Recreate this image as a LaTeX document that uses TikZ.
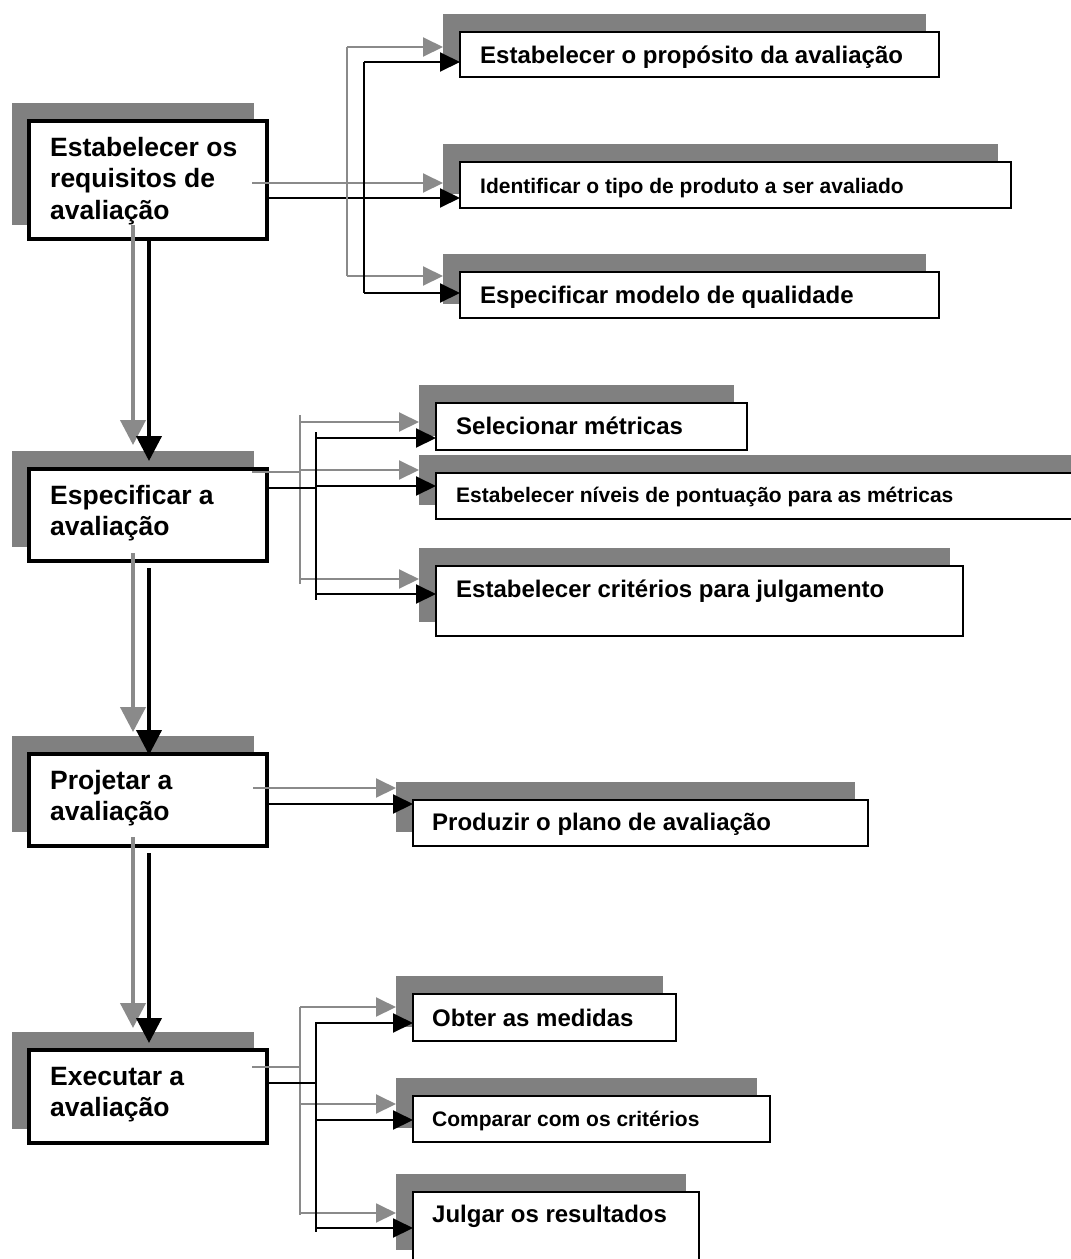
\documentclass[tikz,border=0pt]{standalone}
\usepackage{fontspec}
\setmainfont{Liberation Sans}
\usetikzlibrary{arrows.meta,calc}
\definecolor{shadowgray}{HTML}{808080}
\definecolor{linegray}{HTML}{8A8A8A}

% box with its offset grey shadow: name, style, x, y (top left), width, height
\newcommand\mkbox[6]{%
  \node[shadowbox, minimum width=#5pt+4pt, minimum height=#6pt+4pt] (s-#1) at (#3-17,#4-18) {};
  \node[#2, minimum width=#5pt, minimum height=#6pt] (#1) at (#3,#4) {};}

\begin{document}
\begin{tikzpicture}[x=1pt,y=-1pt,
  shadowbox/.style={fill=shadowgray, inner sep=0, outer sep=0, anchor=north west},
  mainbox/.style={draw, line width=4pt, fill=white, inner sep=0, outer sep=0, anchor=north west},
  subbox/.style={draw, line width=2pt, fill=white, inner sep=0, outer sep=0, anchor=north west},
  maintext/.style={inner sep=0, anchor=base west, font=\bfseries\fontsize{26.5}{31.5}\selectfont},
  subtext/.style={inner sep=0, anchor=base west, font=\bfseries\fontsize{24}{28}\selectfont},
  smalltext/.style={inner sep=0, anchor=base west, font=\bfseries\fontsize{21}{25}\selectfont},
  greyline/.style={draw=linegray, line width=2pt},
  blackline/.style={draw=black, line width=2pt},
  greyarrow/.style={greyline, -{Triangle[length=20pt,width=19pt]}},
  blackarrow/.style={blackline, -{Triangle[length=20pt,width=19pt]}},
  greydown/.style={draw=linegray, line width=4pt, -{Triangle[length=25pt,width=25pt]}},
  blackdown/.style={draw=black, line width=4pt, -{Triangle[length=25pt,width=25pt]}},
]
\fill[white] (0,0) rectangle (1071,1259);
\useasboundingbox (0,0) rectangle (1071,1259);

% main steps
\mkbox{r1}{mainbox}{29}{121}{238}{118}
\mkbox{r2}{mainbox}{29}{469}{238}{92}
\mkbox{r3}{mainbox}{29}{754}{238}{92}
\mkbox{r4}{mainbox}{29}{1050}{238}{93}

% sub-activities
\mkbox{c1}{subbox}{460}{32}{479}{45}
\mkbox{c2}{subbox}{460}{162}{551}{46}
\mkbox{c3}{subbox}{460}{272}{479}{46}
\mkbox{m1}{subbox}{436}{403}{311}{47}
\mkbox{m2}{subbox}{436}{473}{650}{46}
\mkbox{m3}{subbox}{436}{566}{527}{70}
\mkbox{p1}{subbox}{413}{800}{455}{46}
\mkbox{e1}{subbox}{413}{994}{263}{47}
\mkbox{e2}{subbox}{413}{1096}{357}{46}
\mkbox{e3}{subbox}{413}{1192}{286}{72}

% labels
\node[maintext] (t-r1) at ($(r1.north west)+(21,35)$) {\parbox[t]{220pt}{Estabelecer os\\requisitos de\\avaliação}};
\node[maintext] (t-r2) at ($(r2.north west)+(21,35)$) {\parbox[t]{220pt}{Especificar a\\avaliação}};
\node[maintext] (t-r3) at ($(r3.north west)+(21,35)$) {\parbox[t]{220pt}{Projetar a\\avaliação}};
\node[maintext] (t-r4) at ($(r4.north west)+(21,35)$) {\parbox[t]{220pt}{Executar a\\avaliação}};

\node[subtext]   (t-c1) at ($(c1.north west)+(20,31)$) {Estabelecer o propósito da avaliação};
\node[smalltext] (t-c2) at ($(c2.north west)+(20,31)$) {Identificar o tipo de produto a ser avaliado};
\node[subtext]   (t-c3) at ($(c3.north west)+(20,31)$) {Especificar modelo de qualidade};
\node[subtext]   (t-m1) at ($(m1.north west)+(20,31)$) {Selecionar métricas};
\node[smalltext] (t-m2) at ($(m2.north west)+(20,29)$) {Estabelecer níveis de pontuação para as métricas};
\node[subtext]   (t-m3) at ($(m3.north west)+(20,31)$) {Estabelecer critérios para julgamento};
\node[subtext]   (t-p1) at ($(p1.north west)+(19,30)$) {Produzir o plano de avaliação};
\node[subtext]   (t-e1) at ($(e1.north west)+(19,32)$) {Obter as medidas};
\node[smalltext] (t-e2) at ($(e2.north west)+(19,30)$) {Comparar com os critérios};
\node[subtext]   (t-e3) at ($(e3.north west)+(19,30)$) {Julgar os resultados};

% flow between main steps
\coordinate (v1g) at (133,225);  \coordinate (v1gt) at (133,445);
\coordinate (v1bt) at (149,461);
\draw[greydown] (v1g) -- (v1gt);
\draw[blackdown] (r1.south -| 149,0) -- (v1bt);
\coordinate (v2g) at (133,553);  \coordinate (v2gt) at (133,732);
\coordinate (v2b) at (149,568);  \coordinate (v2bt) at (149,755);
\draw[greydown] (v2g) -- (v2gt);
\draw[blackdown] (v2b) -- (v2bt);
\coordinate (v3g) at (133,837);  \coordinate (v3gt) at (133,1028);
\coordinate (v3b) at (149,853);  \coordinate (v3bt) at (149,1043);
\draw[greydown] (v3g) -- (v3gt);
\draw[blackdown] (v3b) -- (v3bt);

% first step to its sub-activities
\coordinate (g1) at (252,183);
\draw[greyarrow] (g1) -- (s-c2.west |- g1);
\draw[blackarrow] (r1.east |- 0,198) -- (c2.west |- 0,198);
\coordinate (g1t) at (347,47);  \coordinate (g1b) at (347,276);
\draw[greyline] (g1t) -- (g1b);
\draw[greyarrow] (g1t) -- (s-c1.west |- g1t);
\draw[greyarrow] (g1b) -- (s-c3.west |- g1b);
\coordinate (b1t) at (364,62);  \coordinate (b1b) at (364,293);
\draw[blackline] (b1t) -- (b1b);
\draw[blackarrow] (b1t) -- (c1.west |- b1t);
\draw[blackarrow] (b1b) -- (c3.west |- b1b);

% second step
\coordinate (g2) at (252,472);  \coordinate (g2j) at (300,472);
\draw[greyline] (g2) -- (g2j);
\coordinate (g2t) at (300,415);  \coordinate (g2b) at (300,584);
\draw[greyline] (g2t) -- (g2b);
\draw[greyarrow] (300,422) -- (s-m1.west |- 0,422);
\draw[greyarrow] (300,470) -- (s-m2.west |- 0,470);
\draw[greyarrow] (300,579) -- (s-m3.west |- 0,579);
\coordinate (b2j) at (316,488);
\draw[blackline] (r2.east |- b2j) -- (b2j);
\coordinate (b2t) at (316,432);  \coordinate (b2b) at (316,600);
\draw[blackline] (b2t) -- (b2b);
\draw[blackarrow] (316,438) -- (m1.west |- 0,438);
\draw[blackarrow] (316,486) -- (m2.west |- 0,486);
\draw[blackarrow] (316,594) -- (m3.west |- 0,594);

% third step
\coordinate (g3) at (253,788);
\draw[greyarrow] (g3) -- (s-p1.west |- g3);
\draw[blackarrow] (r3.east |- 0,804) -- (p1.west |- 0,804);

% fourth step
\coordinate (g4) at (252,1067);  \coordinate (g4j) at (300,1067);
\draw[greyline] (g4) -- (g4j);
\coordinate (g4t) at (300,1007);  \coordinate (g4b) at (300,1215);
\draw[greyline] (g4t) -- (g4b);
\draw[greyarrow] (g4t) -- (s-e1.west |- g4t);
\draw[greyarrow] (300,1104) -- (s-e2.west |- 0,1104);
\draw[greyarrow] (300,1213) -- (s-e3.west |- 0,1213);
\coordinate (b4j) at (316,1083);
\draw[blackline] (r4.east |- b4j) -- (b4j);
\coordinate (b4t) at (316,1022);  \coordinate (b4b) at (316,1232);
\draw[blackline] (b4t) -- (b4b);
\draw[blackarrow] (316,1023) -- (e1.west |- 0,1023);
\draw[blackarrow] (316,1120) -- (e2.west |- 0,1120);
\draw[blackarrow] (316,1228) -- (e3.west |- 0,1228);
\end{tikzpicture}
\end{document}
